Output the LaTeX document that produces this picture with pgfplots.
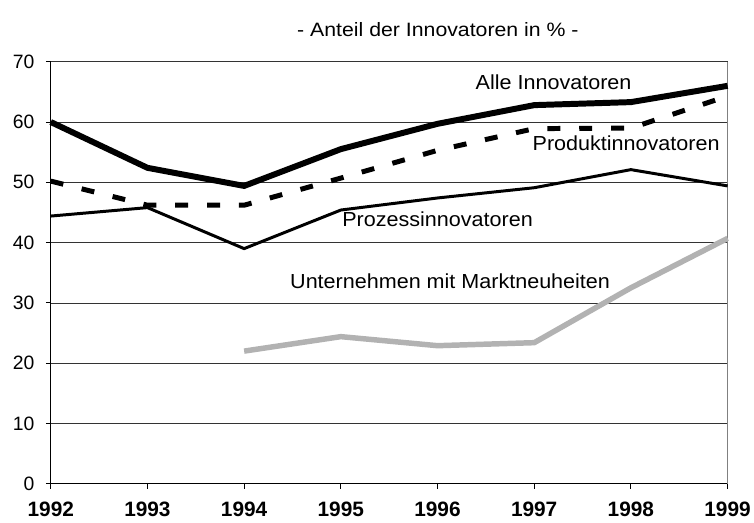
\documentclass[border=0pt]{standalone}
\usepackage{fontspec}
\setmainfont{Liberation Sans}
\newfontfamily\wide[FakeStretch=1.06]{Liberation Sans}
\newfontfamily\widet[FakeStretch=1.1]{Liberation Sans}
\usepackage{pgfplots}
\pgfplotsset{compat=1.18}
\begin{document}
\begin{tikzpicture}
\begin{axis}[
  scale only axis, width=680bp, height=424bp,
  xmin=1992, xmax=1999, ymin=0, ymax=70,
  xtick={1992,...,1999},
  xticklabels={1992,1993,1994,1995,1996,1997,1998,1999},
  ytick={0,10,...,70},
  tick align=outside, tick pos=left,
  major tick length=5bp,
  axis x line*=bottom, axis y line*=left,
  axis line style={black, line width=0.8pt},
  ymajorgrids, grid style={black!80, line width=0.6pt},
  tick style={black, line width=0.8pt},
  xticklabel style={font=\fontsize{21}{24}\selectfont\bfseries, yshift=-10bp},
  yticklabel style={font=\fontsize{19.5}{22}\selectfont, xshift=-8bp},
  /pgf/number format/assume math mode=true,
  clip=false,
]
\path (rel axis cs:0,0) ++(-51bp,-39bp) rectangle ++(754bp,525bp);
\draw[gray, line width=0.8pt] (rel axis cs:1,0) -- (rel axis cs:1,1);
\node[font=\widet\fontsize{19.5}{22}\selectfont] at (rel axis cs:0.572,1) [yshift=32bp] {- Anteil der Innovatoren in \% -};
% Alle Innovatoren
\addplot[black, line width=6bp, line join=miter] coordinates {
(1992,60) (1993,52.4) (1994,49.4) (1995,55.5) (1996,59.7) (1997,62.8) (1998,63.3) (1999,66)};
% Produktinnovatoren
\addplot[black, line width=5bp, dash pattern=on 13bp off 19bp] coordinates {
(1992,50.2) (1993,46.2) (1994,46.2) (1995,50.7) (1996,55.3) (1997,58.9) (1998,59) (1999,64.3)};
% Prozessinnovatoren
\addplot[black, line width=3bp] coordinates {
(1992,44.4) (1993,45.8) (1994,39) (1995,45.4) (1996,47.4) (1997,49.1) (1998,52.1) (1999,49.4)};
% Unternehmen mit Marktneuheiten
\addplot[black!30, line width=5.5bp] coordinates {
(1994,22) (1995,24.4) (1996,22.9) (1997,23.4) (1998,32.5) (1999,40.7)};
\node[font=\wide\fontsize{20.5}{23}\selectfont] at (axis cs:1997.2,66.6) {Alle Innovatoren};
\node[font=\wide\fontsize{20.5}{23}\selectfont] at (axis cs:1997.95,56.5) {Produktinnovatoren};
\node[font=\wide\fontsize{20.5}{23}\selectfont] at (axis cs:1996.0,43.9) {Prozessinnovatoren};
\node[font=\wide\fontsize{20.5}{23}\selectfont] at (axis cs:1996.13,33.6) {Unternehmen mit Marktneuheiten};
\end{axis}
\end{tikzpicture}
\end{document}
